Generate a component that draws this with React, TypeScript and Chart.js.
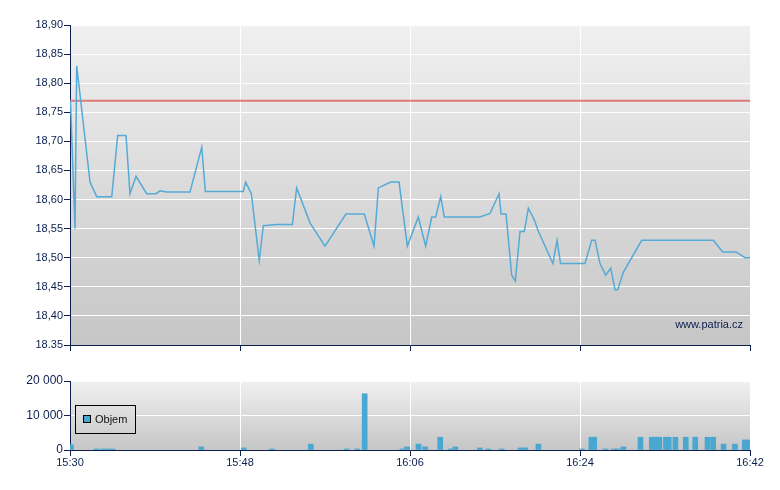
import React, { useEffect, useRef } from "react";
import { Chart, registerables } from "chart.js";

Chart.register(...registerables);

// minutes since 15:30
const priceTimes = [
  0.05, 0.53, 0.71, 2.12, 2.83, 4.42, 5.05, 5.93, 6.35, 6.99, 8.12, 9.11, 9.53, 10.24, 12.71, 13.95,
  14.33, 18.35, 18.6, 19.2, 20.04, 20.47, 21.89, 23.54, 24.0, 25.41, 27.0, 29.22, 31.16, 32.19,
  32.65, 33.96, 34.84, 35.72, 36.88, 37.66, 38.3, 38.72, 39.25, 39.63, 43.41, 44.47, 45.43, 45.64,
  46.17, 46.77, 47.15, 47.65, 48.1, 48.53, 49.16, 49.6, 51.13, 51.57, 51.94, 54.53, 55.24, 55.59,
  56.12, 56.72, 57.25, 57.71, 57.99, 58.59, 60.53, 68.12, 69.11, 70.52, 71.47, 72.0,
];
const prices = [
  18.77, 18.55, 18.83, 18.63, 18.605, 18.605, 18.71, 18.71, 18.61, 18.64, 18.61, 18.61, 18.615,
  18.613, 18.613, 18.69, 18.614, 18.614, 18.63, 18.61, 18.495, 18.555, 18.557, 18.557, 18.62,
  18.56, 18.52, 18.575, 18.575, 18.52, 18.62, 18.63, 18.63, 18.52, 18.57, 18.52, 18.57, 18.57,
  18.605, 18.57, 18.57, 18.576, 18.61, 18.575, 18.575, 18.47, 18.46, 18.545, 18.545, 18.585,
  18.565, 18.545, 18.49, 18.53, 18.49, 18.49, 18.53, 18.53, 18.49, 18.47, 18.482, 18.445, 18.445,
  18.475, 18.53, 18.53, 18.51, 18.51, 18.5, 18.5,
];
const previousClose = 18.77;

const volumeTimes = [
  0.1, 2.8, 3.5, 4.0, 4.5, 13.9, 18.4, 21.4, 25.5, 29.3, 30.4, 31.2, 35.2, 35.7, 36.9, 37.6, 39.2,
  40.3, 40.8, 43.4, 44.3, 45.7, 47.7, 48.2, 49.6, 54.2, 55.2, 55.5, 56.7, 57.6, 58.0, 58.6, 60.4,
  61.6, 62.0, 62.4, 63.1, 63.4, 64.1, 65.2, 66.2, 67.5, 68.1, 69.2, 70.4, 71.45, 71.8,
];
const volumes = [
  1500, 300, 300, 300, 300, 900, 600, 300, 1700, 300, 300, 16300, 300, 900, 1700, 900, 3700, 300,
  900, 600, 300, 300, 600, 600, 1700, 300, 3700, 3700, 300, 300, 300, 900, 3700, 3700, 3700, 3700,
  3700, 3700, 3700, 3700, 3700, 3700, 3700, 1700, 1700, 2900, 2900,
];

const timeTicks = [0, 18, 36, 54, 72];
const timeLabels = ["15:30", "15:48", "16:06", "16:24", "16:42"];
const priceTicks = [18.35, 18.4, 18.45, 18.5, 18.55, 18.6, 18.65, 18.7, 18.75, 18.8, 18.85, 18.9];
const priceLabels = ["18.35", "18,40", "18,45", "18,50", "18,55", "18,60", "18,65", "18,70", "18,75", "18,80", "18,85", "18,90"];
const volumeTicks = [0, 10000, 20000];
const volumeLabels = ["0", "10 000", "20 000"];

const navy = "#0c1f4e";
const FONT = "'Liberation Sans', Arial, sans-serif";

function areaGradient(chart: any, c1: string, c2: string) {
  const { ctx, chartArea } = chart;
  const g = ctx.createLinearGradient(0, chartArea.top, 0, chartArea.bottom);
  g.addColorStop(0, c1);
  g.addColorStop(1, c2);
  return g;
}

const backgroundPlugin = {
  id: "areaBg",
  beforeDraw(chart: any) {
    const { ctx, chartArea } = chart;
    ctx.save();
    ctx.fillStyle = areaGradient(chart, "#f0f0f0", "#c6c6c6");
    ctx.fillRect(chartArea.left, chartArea.top, chartArea.right - chartArea.left, chartArea.bottom - chartArea.top);
    ctx.restore();
  },
};

const watermarkPlugin = {
  id: "watermark",
  afterDraw(chart: any) {
    const { ctx, chartArea } = chart;
    ctx.save();
    ctx.font = `11px ${FONT}`;
    ctx.fillStyle = navy;
    ctx.textAlign = "right";
    ctx.textBaseline = "alphabetic";
    ctx.fillText("www.patria.cz", chartArea.right - 7, chartArea.bottom - 17);
    ctx.restore();
  },
};

const volumeLegendPlugin = {
  id: "volumeLegend",
  afterDraw(chart: any) {
    const { ctx, chartArea } = chart;
    const x = chartArea.left + 5;
    const y = chartArea.top + 24;
    ctx.save();
    ctx.fillStyle = areaGradient(chart, "#f0f0f0", "#c6c6c6");
    ctx.fillRect(x, y, 60, 28);
    ctx.strokeStyle = "#000";
    ctx.lineWidth = 1;
    ctx.strokeRect(x + 0.5, y + 0.5, 60, 28);
    ctx.fillStyle = "#4aa7d1";
    ctx.fillRect(x + 8.5, y + 10.5, 7, 7);
    ctx.strokeRect(x + 8.5, y + 10.5, 7, 7);
    ctx.font = `11px ${FONT}`;
    ctx.fillStyle = "#111";
    ctx.textBaseline = "middle";
    ctx.fillText("Objem", x + 20, y + 15);
    ctx.restore();
  },
};

function xScale(showLabels: boolean, height: number) {
  return {
    type: "linear" as const,
    min: 0,
    max: 72,
    offset: false,
    afterBuildTicks: (s: any) => {
      s.ticks = timeTicks.map((v) => ({ value: v }));
    },
    afterFit: (s: any) => {
      s.height = height;
      s.paddingLeft = 0;
      s.paddingRight = 0;
    },
    grid: { color: "#ffffff", tickColor: navy, tickLength: 6, offset: false },
    border: { color: navy, width: 1 },
    ticks: {
      padding: 0,
      color: navy,
      maxRotation: 0,
      autoSkip: false,
      font: { size: 11 },
      callback: (_v: any, i: number) => (showLabels ? timeLabels[i] : ""),
    },
  };
}

function yScale(values: number[], labels: string[], min: number, max: number, size: number) {
  return {
    type: "linear" as const,
    min,
    max,
    afterBuildTicks: (s: any) => {
      s.ticks = values.map((v) => ({ value: v }));
    },
    afterFit: (s: any) => {
      s.width = 70;
      s.paddingTop = 0;
      s.paddingBottom = 0;
    },
    grid: { color: "#ffffff", tickColor: navy, tickLength: 6 },
    border: { color: navy, width: 1 },
    ticks: {
      padding: 1,
      color: navy,
      font: { size },
      callback: (_v: any, i: number) => labels[i],
    },
  };
}

export default function App() {
  const priceRef = useRef<HTMLCanvasElement | null>(null);
  const volumeRef = useRef<HTMLCanvasElement | null>(null);

  useEffect(() => {
    document.body.style.margin = "0";
    if (!priceRef.current || !volumeRef.current) return;
    Chart.defaults.font.family = FONT;
    Chart.defaults.font.size = 11;

    const priceChart = new Chart(priceRef.current, {
      type: "line",
      data: {
        datasets: [
          {
            label: "Cena",
            data: priceTimes.map((t, i) => ({ x: t, y: prices[i] })),
            borderColor: "#55aad6",
            borderWidth: 1.5,
            pointRadius: 0,
            tension: 0,
          },
          {
            label: "Předchozí závěr",
            data: [
              { x: 0, y: previousClose },
              { x: 72, y: previousClose },
            ],
            borderColor: "rgba(220, 95, 95, 0.8)",
            borderWidth: 2,
            pointRadius: 0,
          },
        ],
      },
      options: {
        responsive: false,
        animation: false,
        events: [],
        layout: { padding: { top: 25, right: 30, left: 0, bottom: 0 } },
        plugins: { legend: { display: false }, tooltip: { enabled: false } },
        scales: {
          x: xScale(false, 15),
          y: yScale(priceTicks, priceLabels, 18.35, 18.9, 11),
        },
      },
      plugins: [backgroundPlugin, watermarkPlugin],
    });

    const volumeChart = new Chart(volumeRef.current, {
      type: "bar",
      data: {
        datasets: [
          {
            label: "Objem",
            data: volumeTimes.map((t, i) => ({ x: t, y: volumes[i] })),
            backgroundColor: "#4aa7d1",
            barThickness: 5,
            clip: 0,
          },
        ],
      },
      options: {
        responsive: false,
        animation: false,
        events: [],
        layout: { padding: { top: 21, right: 30, left: 0, bottom: 0 } },
        plugins: { legend: { display: false }, tooltip: { enabled: false } },
        scales: {
          x: xScale(true, 40),
          y: yScale(volumeTicks, volumeLabels, 0, 20000, 12),
        },
      },
      plugins: [backgroundPlugin, volumeLegendPlugin],
    });

    return () => {
      priceChart.destroy();
      volumeChart.destroy();
    };
  }, []);

  return (
    <div style={{ position: "relative", width: 780, height: 490, background: "#fff" }}>
      <canvas ref={priceRef} width={780} height={360} style={{ position: "absolute", left: 0, top: 0, width: 780, height: 360 }} />
      <canvas ref={volumeRef} width={780} height={130} style={{ position: "absolute", left: 0, top: 360, width: 780, height: 130 }} />
    </div>
  );
}
